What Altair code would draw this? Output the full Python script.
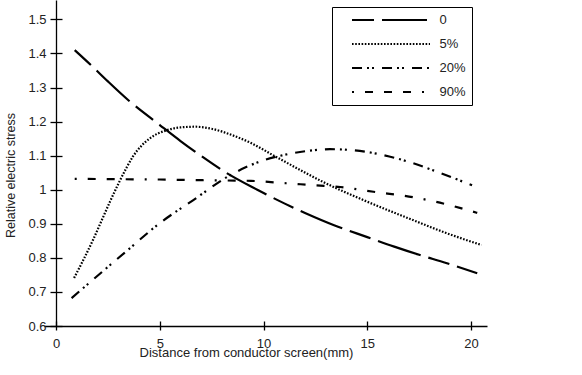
import altair as alt
import pandas as pd

# ---- data ----
series_names = ["0", "5%", "20%", "90%"]

x_0 = [0.9, 1.7, 2.5, 3.5, 5.0, 6.0, 7.0, 8.2, 9.7, 11.0, 12.0, 13.4, 15.0, 16.3, 17.5, 18.8, 20.3]
y_0 = [1.41, 1.365, 1.318, 1.262, 1.19, 1.143, 1.099, 1.05, 1.0, 0.96, 0.932, 0.896, 0.861, 0.833, 0.809, 0.785, 0.755]

x_5 = [0.87, 1.3, 1.8, 2.2, 2.6, 3.0, 3.4, 3.7, 4.1, 4.5, 5.35, 6.0, 6.7, 7.5, 8.5, 9.4, 10.5, 11.8, 12.9, 14.8, 17.2, 18.8, 20.5]
y_5 = [0.741, 0.792, 0.855, 0.91, 0.965, 1.017, 1.065, 1.097, 1.128, 1.15, 1.175, 1.183, 1.185, 1.179, 1.16, 1.137, 1.1, 1.057, 1.022, 0.97, 0.911, 0.873, 0.838]

x_20 = [0.75, 1.8, 3.4, 5.0, 6.6, 8.4, 9.7, 10.9, 12.0, 13.2, 14.3, 15.6, 17.2, 18.4, 20.05]
y_20 = [0.682, 0.737, 0.82, 0.902, 0.969, 1.043, 1.08, 1.101, 1.113, 1.119, 1.116, 1.104, 1.078, 1.052, 1.013]

x_90 = [0.9, 3.0, 5.0, 7.0, 9.4, 11.1, 12.5, 13.7, 15.3, 17.2, 18.5, 19.5, 20.3]
y_90 = [1.032, 1.031, 1.03, 1.028, 1.026, 1.019, 1.013, 1.008, 0.994, 0.978, 0.962, 0.946, 0.932]

x_ticks = [0, 5, 10, 15, 20]
y_ticks = [0.6, 0.7, 0.8, 0.9, 1.0, 1.1, 1.2, 1.3, 1.4, 1.5]

x_title = "Distance from conductor screen(mm)"
y_title = "Relative electric stress"

# ---- table ----
rows = []
for name, xs, ys in zip(series_names, [x_0, x_5, x_20, x_90], [y_0, y_5, y_20, y_90]):
    for xv, yv in zip(xs, ys):
        rows.append({"series": name, "x": xv, "y": yv})
df = pd.DataFrame(rows)

FONT = "Liberation Sans"
TXT = "#222222"

x_scale = alt.Scale(domain=[-0.58, 20.77], nice=False, zero=False)
y_scale = alt.Scale(domain=[0.6, 1.557], nice=False, zero=False)

dash_range = [[22, 8, 45, 8], [1.6, 1.6], [10, 5, 2, 3, 2, 8], [2, 11, 8, 11, 8, 11, 8, 11]]

lines = alt.Chart(df).mark_line(
    color="black", strokeWidth=2.2, interpolate="monotone", strokeCap="butt"
).encode(
    x=alt.X("x:Q", scale=x_scale,
            axis=alt.Axis(values=x_ticks, orient="bottom", title=x_title, grid=False,
                          domainColor="black", domainWidth=1.3, tickColor="black",
                          tickWidth=1.3, tickSize=4, labelPadding=7,
                          labelFont=FONT, labelFontSize=13, labelColor=TXT,
                          titleFont=FONT, titleFontSize=13, titleFontWeight="normal",
                          titleColor=TXT, titleX=202, titleY=26, titleAlign="center",
                          titleBaseline="middle")),
    y=alt.Y("y:Q", scale=y_scale,
            axis=alt.Axis(values=y_ticks, orient="left", offset=-12, format=".1~f",
                          title=y_title, grid=False, domainColor="black", domainWidth=1.3,
                          tickColor="black", tickWidth=1.3, tickSize=6, labelPadding=4,
                          labelFont=FONT, labelFontSize=13, labelColor=TXT,
                          titleFont=FONT, titleFontSize=12.5, titleFontWeight="normal",
                          titleColor=TXT, titleX=-46, titleY=175, titleAngle=270,
                          titleAlign="center", titleBaseline="middle")),
    strokeDash=alt.StrokeDash(
        "series:N",
        scale=alt.Scale(domain=series_names, range=dash_range),
        sort=series_names,
        legend=alt.Legend(
            title=None, orient="none", legendX=288, legendY=7,
            symbolType="M-6.5,0H6.5", symbolSize=144, symbolStrokeWidth=2.2,
            symbolStrokeColor="black", symbolOffset=46, labelOffset=41,
            labelFont=FONT, labelFontSize=13, labelColor=TXT,
            rowPadding=9, padding=5.5, strokeColor="black",
        ),
    ),
    detail="series:N",
)

ticks_other = alt.Chart(df).mark_point(opacity=0, size=1).encode(
    x=alt.X("x:Q", scale=x_scale,
            axis=alt.Axis(values=x_ticks, orient="top", offset=-326, labels=False,
                          domain=False, grid=False, title=None, tickColor="black",
                          tickWidth=1.3, tickSize=5)),
    y=alt.Y("y:Q", scale=y_scale,
            axis=alt.Axis(values=y_ticks, orient="right", offset=-431, labels=False,
                          domain=False, grid=False, title=None, tickColor="black",
                          tickWidth=1.3, tickSize=6)),
)

chart = alt.layer(lines, ticks_other).resolve_axis(
    x="independent", y="independent"
).properties(
    width=443, height=326,
    autosize=alt.AutoSizeParams(type="none"),
    padding={"left": 44, "top": 0, "right": 95, "bottom": 49},
    background="white",
).configure_view(stroke=None)

chart.save("out.html", embed_options={"renderer": "svg", "actions": False})
